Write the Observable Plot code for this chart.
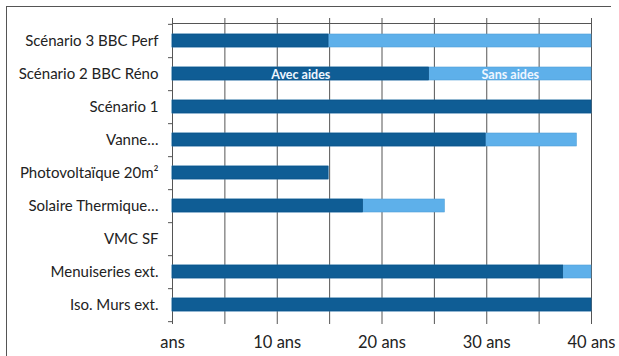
<!DOCTYPE html>
<html>
<head>
<meta charset="utf-8">
<script src="https://cdn.jsdelivr.net/npm/d3@7"></script>
<script src="https://cdn.jsdelivr.net/npm/@observablehq/plot@0.6"></script>
<style>
  html, body { margin: 0; padding: 0; background: #fff; }
  #wrap { position: relative; width: 619px; height: 356px; overflow: hidden; }
  #border { position: absolute; left: 6px; top: 6px; width: 604px; height: 360px;
            border-top: 1.5px solid #555; border-left: 1.5px solid #555; }
  #chart { position: absolute; left: 0; top: 0; }
</style>
</head>
<body>
<div id="wrap"><div id="border"></div><div id="chart"></div></div>
<script>
const categories = [
  "Scénario 3 BBC Perf",
  "Scénario 2 BBC Réno",
  "Scénario 1",
  "Vanne…",
  "Photovoltaïque 20m²",
  "Solaire Thermique…",
  "VMC SF",
  "Menuiseries ext.",
  "Iso. Murs ext."
];
// years of payback with aids (dark) and without aids (total length, light)
const avecAides = [14.9, 24.5, 40, 29.9, 14.9, 18.2, 0, 37.3, 40];
const sansAides = [40, 40, 40, 38.6, 14.9, 26, 0, 40, 40];
const tickValues = [0, 10, 20, 30, 40];
const gridValues = [0, 5, 10, 15, 20, 25, 30, 35, 40];
const segLabels = [
  {cat: "Scénario 2 BBC Réno", seg: 0, text: "Avec aides"},
  {cat: "Scénario 2 BBC Réno", seg: 1, text: "Sans aides"}
];

const rows = categories.map((c, i) => ({cat: c, avec: avecAides[i], sans: sansAides[i]}));
const labelRows = segLabels.map(d => {
  const r = rows.find(r => r.cat === d.cat);
  return {cat: d.cat, text: d.text, x: d.seg === 0 ? r.avec / 2 : (r.avec + r.sans) / 2};
});

const dark = "#0f5d95";
const light = "#5eb0ea";
const step = 300 / categories.length;

const chart = Plot.plot({
  width: 619,
  height: 356,
  marginLeft: 172,
  marginRight: 28,
  marginTop: 23,
  marginBottom: 33,
  style: {fontFamily: "Lato, 'Open Sans', sans-serif", fontSize: "15px", color: "#222", background: "transparent"},
  x: {domain: [0, 40]},
  y: {domain: categories, paddingInner: 0.6, paddingOuter: 0.3, align: 0.5, label: null},
  marks: [
    Plot.ruleX(gridValues, {stroke: "#555", strokeWidth: 1, insetTop: -5, insetBottom: -1}),
    Plot.frame({anchor: "top", stroke: "#555"}),
    Plot.barX(rows, {y: "cat", x1: 0, x2: "sans", fill: light, stroke: "#4f9fd8", strokeWidth: 0.6}),
    Plot.barX(rows, {y: "cat", x1: 0, x2: "avec", fill: dark, stroke: "#0b4f82", strokeWidth: 0.6}),
    Plot.ruleY(categories, {x1: 0, x2: 0, insetLeft: -4, dy: step / 2, stroke: "#555"}),
    Plot.ruleY([categories[0]], {x1: 0, x2: 0, insetLeft: -4, dy: -step / 2, stroke: "#555"}),
    Plot.text(labelRows, {x: "x", y: "cat", text: "text", fill: "#eef6ff", fontSize: 12.5, fontWeight: "bold", dy: 1}),
    Plot.axisY({tickSize: 0, tickPadding: 14, fontSize: 15, fill: "#222", label: null}),
    Plot.axisX({ticks: tickValues, tickSize: 0, tickPadding: 13, fontSize: 16.5, fill: "#222", label: null,
      tickFormat: d => d === 0 ? "ans" : d + " ans"})
  ]
});
document.getElementById("chart").appendChild(chart);
</script>
</body>
</html>
